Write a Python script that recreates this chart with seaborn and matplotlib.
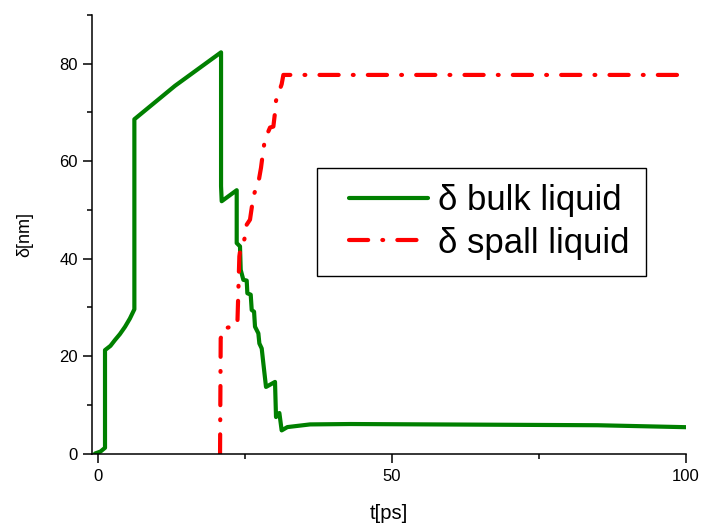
import matplotlib
matplotlib.use("Agg")
import matplotlib.pyplot as plt
import seaborn as sns
import pandas as pd
from matplotlib.ticker import MultipleLocator
from matplotlib.legend_handler import HandlerLine2D

# ---- data ----
t_bulk = [-0.42, 0.5, 1.27, 1.27, 2.2, 2.97, 3.8, 4.67, 5.5, 6.26, 6.26, 13.17, 20.99,
          20.99, 21.10, 23.65, 23.65, 24.21, 24.33, 24.78, 25.35, 25.46, 26.03,
          26.20, 26.60, 26.76, 27.33, 27.50, 27.90, 28.18, 28.63, 30.16, 30.33,
          30.90, 31.29, 32.26, 36.11, 43.0, 60.0, 85.0, 100.0]
d_bulk = [0.0, 0.4, 1.17, 21.22, 22.1, 23.3, 24.5, 26.0, 27.7, 29.6, 68.6, 75.47, 82.34,
          54.87, 51.78, 54.04, 43.19, 42.51, 37.70, 35.64, 35.5, 32.89, 32.6,
          29.46, 29.1, 26.03, 24.66, 22.59, 21.56, 18.47, 13.66, 14.69, 7.48,
          8.31, 4.74, 5.42, 5.97, 6.05, 5.95, 5.8, 5.4]

t_spall = [20.82, 20.93, 21.38, 22.40, 23.76, 24.10, 24.33, 24.78, 25.23, 25.35,
           25.91, 26.20, 26.48, 26.76, 27.33, 27.78, 28.18, 28.46, 29.31, 29.88,
           30.16, 30.33, 31.0, 31.29, 31.58, 100.0]
d_spall = [0.0, 23.6, 25.7, 25.9, 26.37, 40.45, 42.5, 43.2, 45.26, 46.97,
           48.0, 50.4, 52.8, 53.8, 55.55, 58.65, 62.4, 64.5, 66.9, 67.1,
           70.0, 72.4, 74.8, 75.8, 77.7, 77.7]

labels = ["δ bulk liquid", "δ spall liquid"]
x_label = "t[ps]"
y_label = "δ[nm]"

sns.set_style("ticks")
plt.rcParams["font.family"] = ["Liberation Sans", "DejaVu Sans"]
plt.rcParams["text.color"] = "black"
plt.rcParams["axes.labelcolor"] = "black"
plt.rcParams["xtick.color"] = "black"
plt.rcParams["ytick.color"] = "black"

fig = plt.figure(figsize=(7.03, 5.23), dpi=100)
ax = fig.add_axes([92 / 703, 1 - 453.5 / 523, (686 - 92) / 703, (453.5 - 15) / 523])

df_b = pd.DataFrame({"t": t_bulk, "d": d_bulk})
df_s = pd.DataFrame({"t": t_spall, "d": d_spall})

sns.lineplot(data=df_b, x="t", y="d", ax=ax, sort=False, estimator=None,
             color="#008000", linewidth=3, label=labels[0])
sns.lineplot(data=df_s, x="t", y="d", ax=ax, sort=False, estimator=None,
             color="#ff0000", linewidth=3, label=labels[1],
             linestyle=(0, (4.6, 3.4, 0.2, 3.4)), dash_capstyle="round")

ax.set_xlim(-0.94, 100)
ax.set_ylim(0, 90)
ax.xaxis.set_major_locator(MultipleLocator(50))
ax.xaxis.set_minor_locator(MultipleLocator(25))
ax.yaxis.set_major_locator(MultipleLocator(20))
ax.yaxis.set_minor_locator(MultipleLocator(10))
ax.tick_params(which="major", direction="out", length=6.5, width=1.1,
               labelsize=12, color="black", labelcolor="black")
ax.tick_params(axis="x", which="major", pad=5)
ax.tick_params(which="minor", direction="out", length=3.5, width=1.1, color="black")

for s in ["top", "right"]:
    ax.spines[s].set_visible(False)
for s in ["left", "bottom"]:
    ax.spines[s].set_linewidth(1.1)
    ax.spines[s].set_color("black")

ax.set_xlabel(x_label, fontsize=14.5, labelpad=14)
ax.set_ylabel(y_label, fontsize=13, labelpad=19)

fs = 25
leg = ax.legend(loc="upper left", bbox_to_anchor=(0.379, 0.652),
                borderaxespad=0, fontsize=fs, frameon=True, fancybox=False,
                framealpha=1, edgecolor="black", handlelength=2.72,
                handletextpad=0.29, labelspacing=0.28, borderpad=0.47,
                handler_map={matplotlib.lines.Line2D: HandlerLine2D(xpad=0.46)})
leg.get_frame().set_linewidth(1.0)

fig.savefig("out.png", dpi=100)
